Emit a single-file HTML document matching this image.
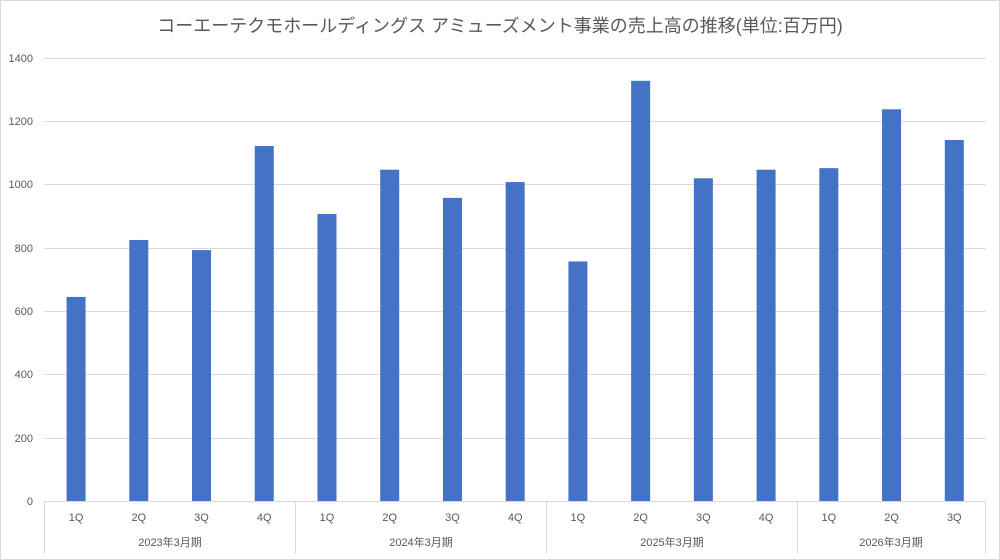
<!DOCTYPE html>
<html><head><meta charset="utf-8"><style>body{margin:0}svg{display:block}</style></head><body>
<svg width="1000" height="560" xmlns="http://www.w3.org/2000/svg" font-family="Liberation Sans, Noto Sans CJK JP, sans-serif">
<rect x="0.5" y="0.5" width="999" height="559" fill="#fff" stroke="#d9d9d9"/>
<text x="500" y="32" text-anchor="middle" font-size="18" fill="#595959">コーエーテクモホールディングス アミューズメント事業の売上高の推移(単位:百万円)</text>
<g stroke="#d9d9d9" stroke-width="1">
<line x1="44.5" x2="985.5" y1="58.5" y2="58.5"/><line x1="44.5" x2="985.5" y1="121.5" y2="121.5"/><line x1="44.5" x2="985.5" y1="184.5" y2="184.5"/><line x1="44.5" x2="985.5" y1="248.5" y2="248.5"/><line x1="44.5" x2="985.5" y1="311.5" y2="311.5"/><line x1="44.5" x2="985.5" y1="374.5" y2="374.5"/><line x1="44.5" x2="985.5" y1="438.5" y2="438.5"/><line x1="44.5" x2="985.5" y1="501.5" y2="501.5"/>
<line x1="44.5" x2="44.5" y1="501" y2="554"/><line x1="295.5" x2="295.5" y1="501" y2="554"/><line x1="546.5" x2="546.5" y1="501" y2="554"/><line x1="797.5" x2="797.5" y1="501" y2="554"/><line x1="985.5" x2="985.5" y1="501" y2="554"/>
</g>
<g font-size="11" fill="#595959" text-anchor="end">
<text x="33" y="62">1400</text><text x="33" y="125">1200</text><text x="33" y="188">1000</text><text x="33" y="252">800</text><text x="33" y="315">600</text><text x="33" y="378">400</text><text x="33" y="442">200</text><text x="33" y="505">0</text>
</g>
<g fill="#4472c4" id="bars"></g>
<g font-size="11" fill="#595959" text-anchor="middle" id="lbl"></g>
<script>
var v=[645,825,793,1122,907,1047,958,1008,757,1328,1020,1047,1052,1238,1141],q=["1Q","2Q","3Q","4Q"],b=document.getElementById("bars"),l=document.getElementById("lbl"),ns="http://www.w3.org/2000/svg";
v.forEach(function(d,i){var cx=44.7+62.73*(i+0.5),h=d*0.3164,r=document.createElementNS(ns,"rect");r.setAttribute("x",cx-9.5);r.setAttribute("width",19);r.setAttribute("y",501-h);r.setAttribute("height",h);b.appendChild(r);
var t=document.createElementNS(ns,"text");t.setAttribute("x",cx);t.setAttribute("y",521);t.textContent=q[i%4];l.appendChild(t);});
[["2023年3月期",170],["2024年3月期",421],["2025年3月期",672],["2026年3月期",891]].forEach(function(a){var t=document.createElementNS(ns,"text");t.setAttribute("x",a[1]);t.setAttribute("y",546);t.textContent=a[0];l.appendChild(t);});
</script>
</svg>
</body></html>
